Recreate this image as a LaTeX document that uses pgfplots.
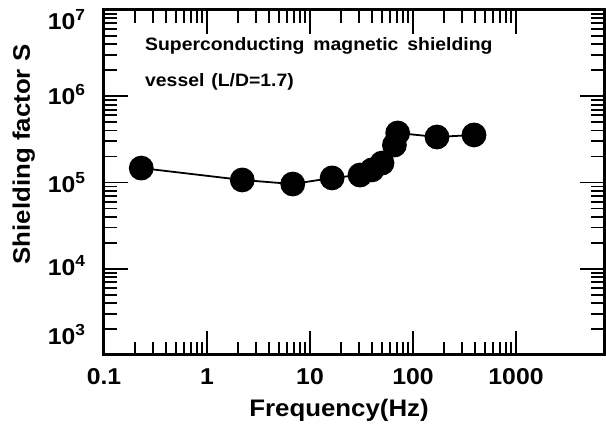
\documentclass[border=0pt]{standalone}
\usepackage{fontspec}
\setmainfont{Liberation Sans}[FakeStretch=1.08]
\usepackage{pgfplots}
\pgfplotsset{compat=1.18}
\begin{document}
\begin{tikzpicture}
\path[use as bounding box] (-104bp,-75bp) rectangle (502bp,355bp);
\begin{axis}[
  scale only axis, width=500bp, height=345bp,
  xmode=log, ymode=log,
  xmin=0.1, xmax=7150, ymin=1e3, ymax=1e7,
  axis line style={line width=3bp},
  tick style={line width=1.8bp, black},
  major tick length=24bp, minor tick length=13bp,
  tick align=inside,
  xtick={0.1,1,10,100,1000},
  xticklabels={0.1,1,10,100,1000},
  ytick={1e3,1e4,1e5,1e6,1e7},
  yticklabels={},
  extra y ticks={1.71e3,1.1e4,1e5,1.05e6,7.65e6},
  extra y tick labels={10\textsuperscript{3},10\textsuperscript{4},10\textsuperscript{5},10\textsuperscript{6},10\textsuperscript{7}},
  extra y tick style={major tick length=0pt},
  ticklabel style={font=\fontsize{23}{26}\selectfont\bfseries},
  xticklabel style={yshift=-10bp},
  yticklabel style={xshift=-15bp},
  xlabel={Frequency(Hz)}, ylabel={Shielding factor S},
  label style={font=\fontsize{24}{27}\selectfont\bfseries},
  xlabel style={yshift=-8bp, xshift=-15bp},
  ylabel style={yshift=6bp, xshift=28bp},
]
\addplot[black, line width=1.8bp, mark=*, mark size=11.5bp, mark options={fill=black}] coordinates {
(0.23,1.47e5) (2.2,1.07e5) (6.8,9.6e4) (16.4,1.13e5) (30.6,1.22e5) (40,1.40e5) (50,1.68e5) (66,2.72e5) (71,3.75e5) (171,3.37e5) (391,3.56e5)
};
\node[anchor=base west, font=\fontsize{18}{20}\selectfont\bfseries, inner sep=0pt] at (rel axis cs:0.082,0.884) {Superconducting\hspace{9bp}magnetic\hspace{9bp}shielding};
\node[anchor=base west, font=\fontsize{18}{20}\selectfont\bfseries, inner sep=0pt] at (rel axis cs:0.082,0.777) {vessel\hspace{7bp}(L/D=1.7)};
\end{axis}
\end{tikzpicture}
\end{document}
